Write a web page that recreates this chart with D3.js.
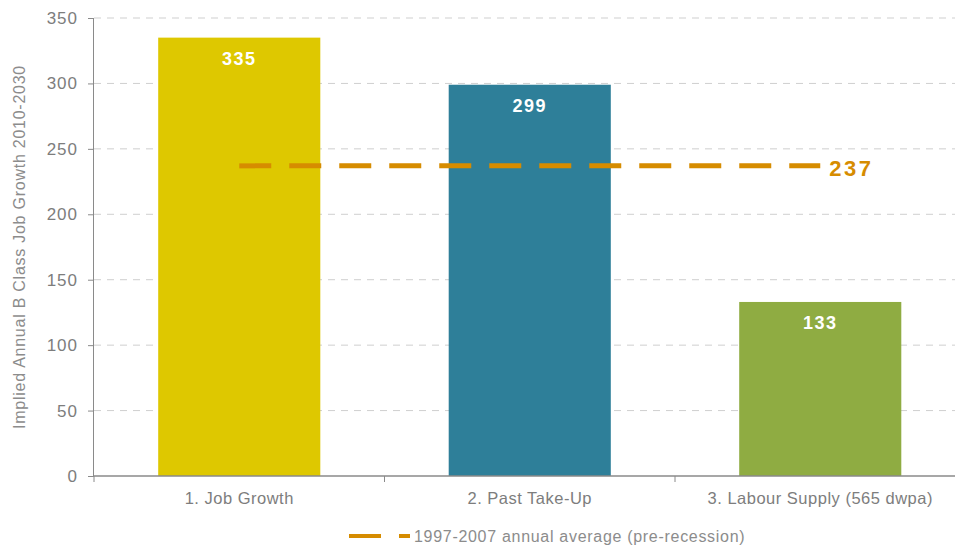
<!DOCTYPE html>
<html>
<head>
<meta charset="utf-8">
<script src="https://cdn.jsdelivr.net/npm/d3@7"></script>
<style>
  html, body { margin: 0; padding: 0; background: #fff; }
  svg { display: block; font-family: "Liberation Sans", Arial, sans-serif; }
</style>
</head>
<body>
<svg id="chart" width="955" height="550"></svg>
<script>
// Scenario categories and their implied annual job growth
const categories = ["1. Job Growth", "2. Past Take-Up", "3. Labour Supply (565 dwpa)"];
const values = [335, 299, 133];
const barColors = ["#dec800", "#2e7f99", "#8fac42"];

// Historic reference level
const averageValue = 237;
const averageLabel = "1997-2007 annual average (pre-recession)";

// Axis settings
const yTicks = [0, 50, 100, 150, 200, 250, 300, 350];
const yTitle = "Implied Annual B Class Job Growth 2010-2030";

const svg = d3.select("#chart");
const W = 955;
const plot = { left: 94, right: 965.5, top: 18, bottom: 476 };

const x = d3.scaleBand().domain(categories).range([plot.left, plot.right]).padding(0);
const y = d3.scaleLinear().domain([0, 350]).range([plot.bottom, plot.top]);
const barW = x.bandwidth() * 0.558;
const cx = c => x(c) + x.bandwidth() / 2;

const gray = "#8a8a8a";
const textGray = "#7d7d7d";

// Horizontal gridlines
svg.append("g")
  .selectAll("line")
  .data(yTicks.filter(d => d > 0))
  .join("line")
  .attr("x1", plot.left).attr("x2", W)
  .attr("y1", d => y(d)).attr("y2", d => y(d))
  .attr("stroke", "#cfcfcf")
  .attr("stroke-width", 1)
  .attr("stroke-dasharray", "7,6");

// Bars
svg.append("g")
  .selectAll("rect")
  .data(values)
  .join("rect")
  .attr("x", (d, i) => cx(categories[i]) - barW / 2)
  .attr("width", barW)
  .attr("y", d => y(d))
  .attr("height", d => y(0) - y(d))
  .attr("fill", (d, i) => barColors[i]);

// Value labels inside bars
svg.append("g")
  .selectAll("text")
  .data(values)
  .join("text")
  .attr("x", (d, i) => cx(categories[i]))
  .attr("y", d => y(d) + 27)
  .attr("text-anchor", "middle")
  .attr("fill", "#fff")
  .attr("font-weight", "bold")
  .attr("font-size", 18)
  .attr("letter-spacing", 1.5)
  .text(d => d);

// Y axis
const yAxis = svg.append("g")
  .attr("transform", `translate(${plot.left},0)`)
  .call(d3.axisLeft(y).tickValues(yTicks).tickSize(6).tickPadding(10));
yAxis.select(".domain").attr("stroke", gray).attr("d", `M-0.5,${plot.top}V${plot.bottom}`);
yAxis.selectAll(".tick line").attr("stroke", gray);
yAxis.selectAll(".tick text").attr("fill", textGray).attr("font-size", 17)
  .attr("letter-spacing", 1)
  .attr("font-family", "Liberation Sans, Arial, sans-serif");

// X axis
const xAxis = svg.append("g")
  .attr("transform", `translate(0,${plot.bottom})`)
  .call(d3.axisBottom(x).tickSize(0).tickPadding(16));
xAxis.select(".domain").attr("stroke", gray).attr("stroke-width", 1.5)
  .attr("d", `M${plot.left},0H${W}`);
xAxis.selectAll(".tick text").attr("fill", textGray).attr("font-size", 16.5)
  .attr("letter-spacing", 0.5)
  .attr("font-family", "Liberation Sans, Arial, sans-serif");
// Band boundary ticks
xAxis.append("g")
  .selectAll("line")
  .data(categories)
  .join("line")
  .attr("x1", d => x(d)).attr("x2", d => x(d))
  .attr("y1", 0).attr("y2", 6)
  .attr("stroke", gray);

// Average reference line
svg.append("line")
  .attr("x1", cx(categories[0]))
  .attr("x2", cx(categories[2]))
  .attr("y1", y(averageValue)).attr("y2", y(averageValue))
  .attr("stroke", "#d68c00")
  .attr("stroke-width", 5)
  .attr("stroke-dasharray", "32,18");

svg.append("text")
  .attr("x", cx(categories[2]) + 9)
  .attr("y", y(averageValue) + 10)
  .attr("fill", "#d68c00")
  .attr("font-weight", "bold")
  .attr("font-size", 22)
  .attr("letter-spacing", 2.5)
  .text(averageValue);

// Y axis title
svg.append("text")
  .attr("transform", `translate(25,247) rotate(-90)`)
  .attr("text-anchor", "middle")
  .attr("fill", "#8c8c8c")
  .attr("font-size", 16)
  .attr("letter-spacing", 0.75)
  .text(yTitle);

// Legend
const lg = svg.append("g").attr("transform", "translate(349,536)");
lg.append("line").attr("x1", 0).attr("x2", 32).attr("y1", 0).attr("y2", 0)
  .attr("stroke", "#d68c00").attr("stroke-width", 4);
lg.append("line").attr("x1", 50).attr("x2", 61).attr("y1", 0).attr("y2", 0)
  .attr("stroke", "#d68c00").attr("stroke-width", 4);
lg.append("text").attr("x", 65).attr("y", 6)
  .attr("fill", "#8c8c8c").attr("font-size", 16)
  .attr("letter-spacing", 0.7)
  .text(averageLabel);
</script>
</body>
</html>
